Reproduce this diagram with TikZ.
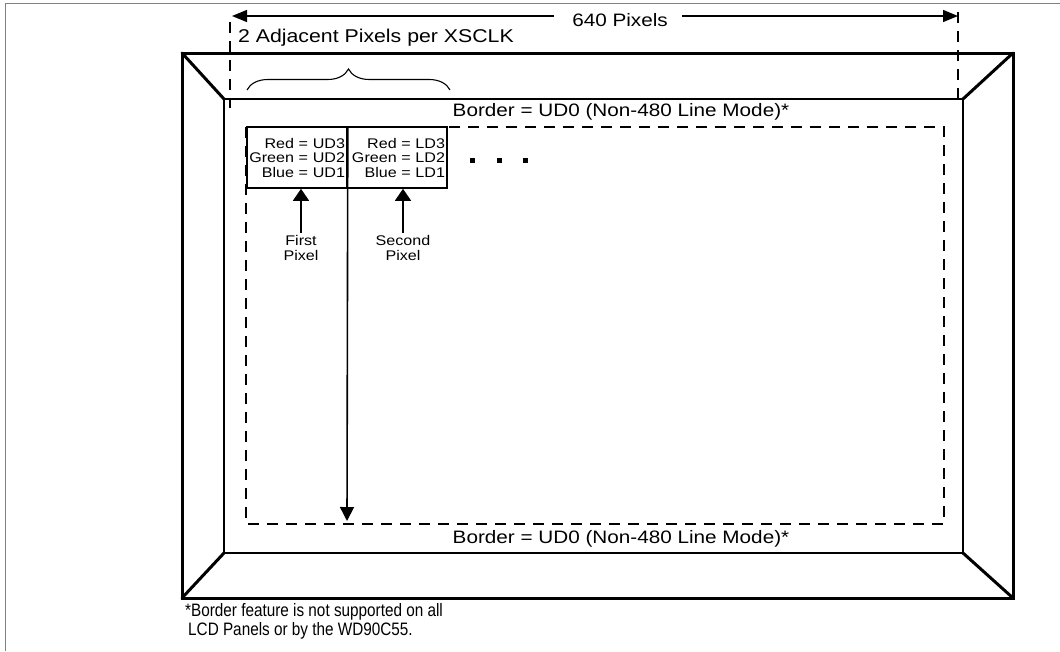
\documentclass[tikz,border=0pt]{standalone}
\usepackage{fontspec}
\setmainfont[FakeStretch=1.15]{Liberation Sans}
\newfontfamily\notefont[FakeStretch=0.85]{Liberation Sans}
\usetikzlibrary{arrows.meta,decorations.pathreplacing}
\begin{document}
\begin{tikzpicture}[x=1pt,y=-1pt,
  bigframe/.style={line width=3pt, line join=miter},
  innerframe/.style={line width=2.6pt, line join=miter},
  diag/.style={line width=3pt, line cap=round},
  dashline/.style={line width=1.3pt, dash pattern=on 11pt off 8pt},
  maintext/.style={inner sep=0pt, font=\fontsize{18}{20}\selectfont},
  smalltext/.style={inner sep=0pt, font=\fontsize{14}{15}\selectfont, align=center},
  pixbox/.style={draw, line width=1.6pt, minimum width=100pt, minimum height=61pt,
     inner sep=0pt, text width=96pt, align=right, font=\fontsize{14}{14.5}\selectfont},
  hdim/.style={line width=1.3pt, -{Triangle[length=15pt,width=12pt]}},
  uparr/.style={line width=1.6pt, -{Triangle[length=12pt,width=16pt]}},
  downarr/.style={line width=1.6pt, -{Triangle[length=14pt,width=14pt]}},
  dotsq/.style={fill=black}
]
\useasboundingbox (0,0) rectangle (1060,651);

% page frame
\draw[gray, line width=1pt] (5,651) -- (5,3) -- (1060,3);

% corners
\coordinate (oTL) at (182,53);  \coordinate (oTR) at (1013,53);
\coordinate (oBL) at (182,598); \coordinate (oBR) at (1013,598);
\coordinate (iTL) at (224,99);  \coordinate (iTR) at (963,99);
\coordinate (iBL) at (224,553); \coordinate (iBR) at (963,553);

\draw[bigframe] (oTL) rectangle (oBR);
\draw[innerframe] (iTL) rectangle (iBR);
\draw[diag] (oTL) -- (iTL);
\draw[diag] (oTR) -- (iTR);
\draw[diag] (oBL) -- (iBL);
\draw[diag] (oBR) -- (iBR);

% dashed active area
\draw[dashline] (246,127) rectangle (944,524);
\draw[dashline] (230,22) -- (230,108);
\draw[dashline] (958,12) -- (958,98);

% 640 pixels dimension
\coordinate (tl) at (232,16);
\coordinate (tr) at (958,16);
\node[maintext, anchor=base] (p640) at (620,26) {640 Pixels};
\draw[hdim] ([xshift=-18pt]p640.west |- tl) -- (tl);
\draw[hdim] ([xshift=14pt]p640.east |- tr) -- (tr);

\node[maintext, anchor=base west, font=\fontsize{18.5}{20}\selectfont] (adj) at (238,42) {2 Adjacent Pixels per XSCLK};

% brace
\draw[line width=1.1pt, decorate, decoration={brace, amplitude=21pt}] (247,90) -- (450,90);

% border labels
\node[maintext, anchor=base] (btop) at (621,116) {Border = UD0 (Non-480 Line Mode)*};
\node[maintext, anchor=base] (bbot) at (621,543) {Border = UD0 (Non-480 Line Mode)*};

% pixel boxes
\node[pixbox] (box1) at (297,157.5) {Red = UD3\\Green = UD2\\Blue = UD1};
\node[pixbox] (box2) at (397,157.5) {Red = LD3\\Green = LD2\\Blue = LD1};

% dots
\fill[dotsq] (470,158) rectangle (475,163);
\fill[dotsq] (497,158) rectangle (502,163);
\fill[dotsq] (523,158) rectangle (528,163);

% pixel labels
\node[smalltext, anchor=north] (first) at (301,235) {First\\Pixel};
\node[smalltext, anchor=north] (second) at (403,235) {Second\\Pixel};
\draw[uparr] ([yshift=2pt]first.north) -- (first.north |- box1.south);
\draw[uparr] ([yshift=2pt]second.north) -- (second.north |- box2.south);

% vertical 480 arrow
\coordinate (vend) at (347,521);
\draw[downarr] (box1.north east) -- (vend);

% footnote
\node[anchor=north west, inner sep=0pt, align=left, font=\notefont\fontsize{18}{19}\selectfont] (fn) at (185,603)
  {*Border feature is not supported on all\\\hspace*{3pt}LCD Panels or by the WD90C55.};
\end{tikzpicture}
\end{document}
